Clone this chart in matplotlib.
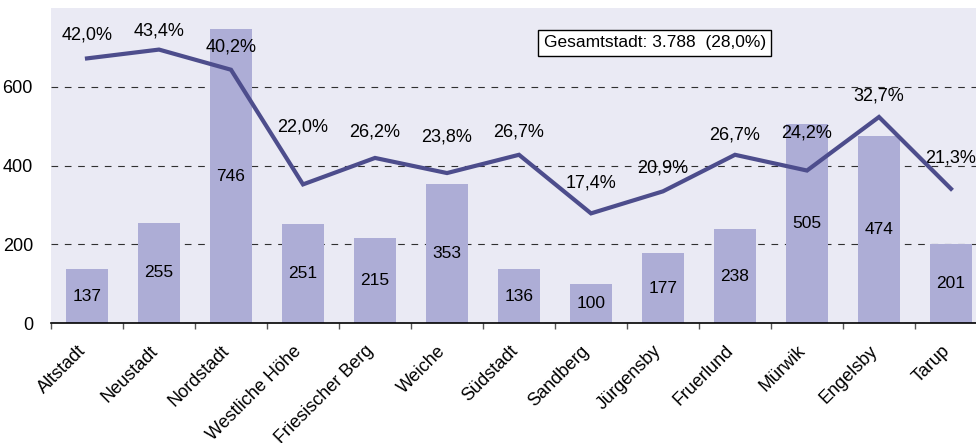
import matplotlib.pyplot as plt
from matplotlib.ticker import FixedLocator
from matplotlib.transforms import ScaledTranslation

plt.rcParams['font.family'] = ['Liberation Sans', 'DejaVu Sans']

# Data
districts = ["Altstadt", "Neustadt", "Nordstadt", "Westliche Höhe", "Friesischer Berg",
             "Weiche", "Südstadt", "Sandberg", "Jürgensby", "Fruerlund", "Mürwik",
             "Engelsby", "Tarup"]
counts = [137, 255, 746, 251, 215, 353, 136, 100, 177, 238, 505, 474, 201]
shares = [42.0, 43.4, 40.2, 22.0, 26.2, 23.8, 26.7, 17.4, 20.9, 26.7, 24.2, 32.7, 21.3]
total_label = "Gesamtstadt: 3.788  (28,0%)"

# label lift above the line points, in pixels (as placed in the original)
share_label_lift = [23, 19, 23, 57, 26, 36, 23, 30, 23, 20, 38, 21, 31]

bar_color = "#ADADD6"
line_color = "#4D4D8C"
bg_color = "#EAEAF4"

fig = plt.figure(figsize=(9.76, 4.43), dpi=100)
ax = fig.add_axes([51 / 976, 120 / 443, 936 / 976, 315 / 443])
ax.set_facecolor(bg_color)

x = list(range(len(districts)))
ax.bar(x, counts, width=0.58, color=bar_color, zorder=2)
for xi, v in zip(x, counts):
    ax.text(xi, v / 2, str(v), ha="center", va="center", fontsize=12.5, zorder=5)

ax.set_xlim(-0.5, len(districts) - 0.5)
ax.set_ylim(0, 800)
ax.set_yticks([0, 200, 400, 600])
ax.tick_params(axis="y", length=0, labelsize=13, pad=13)
ax.yaxis.grid(True, linestyle=(0, (6, 6)), color="#303030", linewidth=0.8, zorder=1)
ax.set_axisbelow(True)

ax.set_xticks(x)
ax.set_xticklabels(districts, rotation=45, ha="right", rotation_mode="anchor", fontsize=13)
ax.tick_params(axis="x", which="major", length=0, pad=14)
shift = ScaledTranslation(-10 / 100, 0, fig.dpi_scale_trans)
for lab in ax.get_xticklabels():
    lab.set_transform(lab.get_transform() + shift)
ax.xaxis.set_minor_locator(FixedLocator([i - 0.5 for i in range(len(districts) + 1)]))
ax.tick_params(axis="x", which="minor", length=4, width=1, color="#555555")

for s in ["top", "right", "left"]:
    ax.spines[s].set_visible(False)
ax.spines["bottom"].set_color("black")
ax.spines["bottom"].set_linewidth(1.2)

# Share line on hidden secondary axis (0-50 %)
ax2 = ax.twinx()
ax2.set_ylim(0, 50)
ax2.plot(x, shares, color=line_color, linewidth=3, solid_joinstyle="miter", zorder=4)
ax2.axis("off")
for xi, p, lift in zip(x, shares, share_label_lift):
    ax2.annotate(f"{p:.1f}%".replace(".", ","), (xi, p), xytext=(0, lift * 0.72),
                 textcoords="offset points", ha="center", va="center", fontsize=13)

ax2.text(0.645, 0.889, total_label, transform=ax.transAxes, ha="center", va="center",
         fontsize=12.5, bbox=dict(boxstyle="square,pad=0.3", facecolor="white",
                                  edgecolor="black", linewidth=1))

fig.savefig("out.png", dpi=100)
